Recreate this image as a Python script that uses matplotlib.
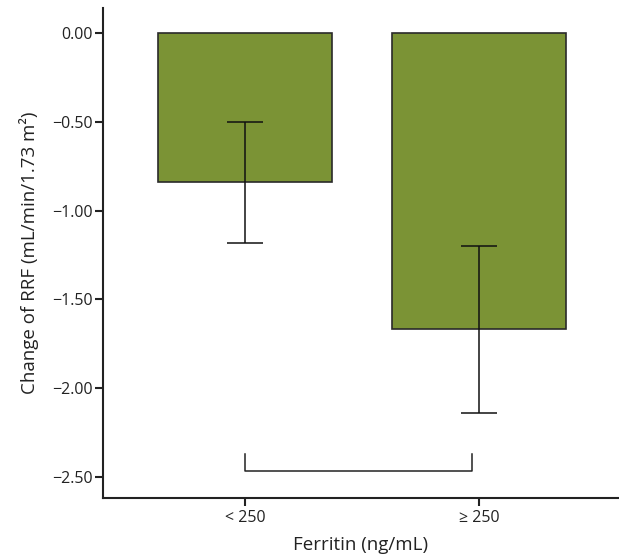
import matplotlib
matplotlib.use("Agg")
import matplotlib.pyplot as plt

plt.rcParams['font.family'] = ['Open Sans', 'DejaVu Sans']

# data
groups = ['< 250', '≥ 250']
change_rrf = [-0.84, -1.667]
err = [0.34, 0.47]
bracket_y = -2.465
bracket_tick = -2.37

fig = plt.figure(figsize=(6.19, 5.59), dpi=100)
ax = fig.add_axes([103/619, 1 - 498/559, 1 - 103/619, (498 - 8)/559])

x = list(range(len(groups)))
ax.bar(x, change_rrf, width=0.744, color='#7b9335', edgecolor='#2a2a2a', linewidth=1.2, zorder=2)
ax.errorbar(x, change_rrf, yerr=err, fmt='none', ecolor='#111111', elinewidth=1.1,
            capsize=13, capthick=1.1, zorder=3)

# significance bracket
ax.plot([x[0], x[0], 0.97, 0.97], [bracket_tick, bracket_y, bracket_y, bracket_tick],
        color='#222222', linewidth=1.1)

ax.set_xlim(-0.607, 1.598)
ax.set_ylim(-2.618, 0.14)
ax.set_xticks(x)
ax.set_xticklabels(groups)
ax.set_yticks([0, -0.5, -1.0, -1.5, -2.0, -2.5])
ax.set_yticklabels(['0.00', '\u22120.50', '\u22121.00', '\u22121.50', '\u22122.00', '\u22122.50'])

for s in ['top', 'right']:
    ax.spines[s].set_visible(False)
for s in ['left', 'bottom']:
    ax.spines[s].set_linewidth(1.5)
    ax.spines[s].set_color('#222222')
ax.tick_params(axis='both', length=6, width=1.5, color='#222222', labelsize=11.5, labelcolor='#222222')
ax.tick_params(axis='y', pad=1.5)
ax.tick_params(axis='x', pad=2.5)

ax.set_xlabel('Ferritin (ng/mL)', fontsize=13.5, color='#222222', labelpad=7)
ax.set_ylabel('Change of RRF (mL/min/1.73 m\u00b2)', fontsize=13.5, color='#222222', labelpad=9)

fig.savefig('out.png', dpi=100)
